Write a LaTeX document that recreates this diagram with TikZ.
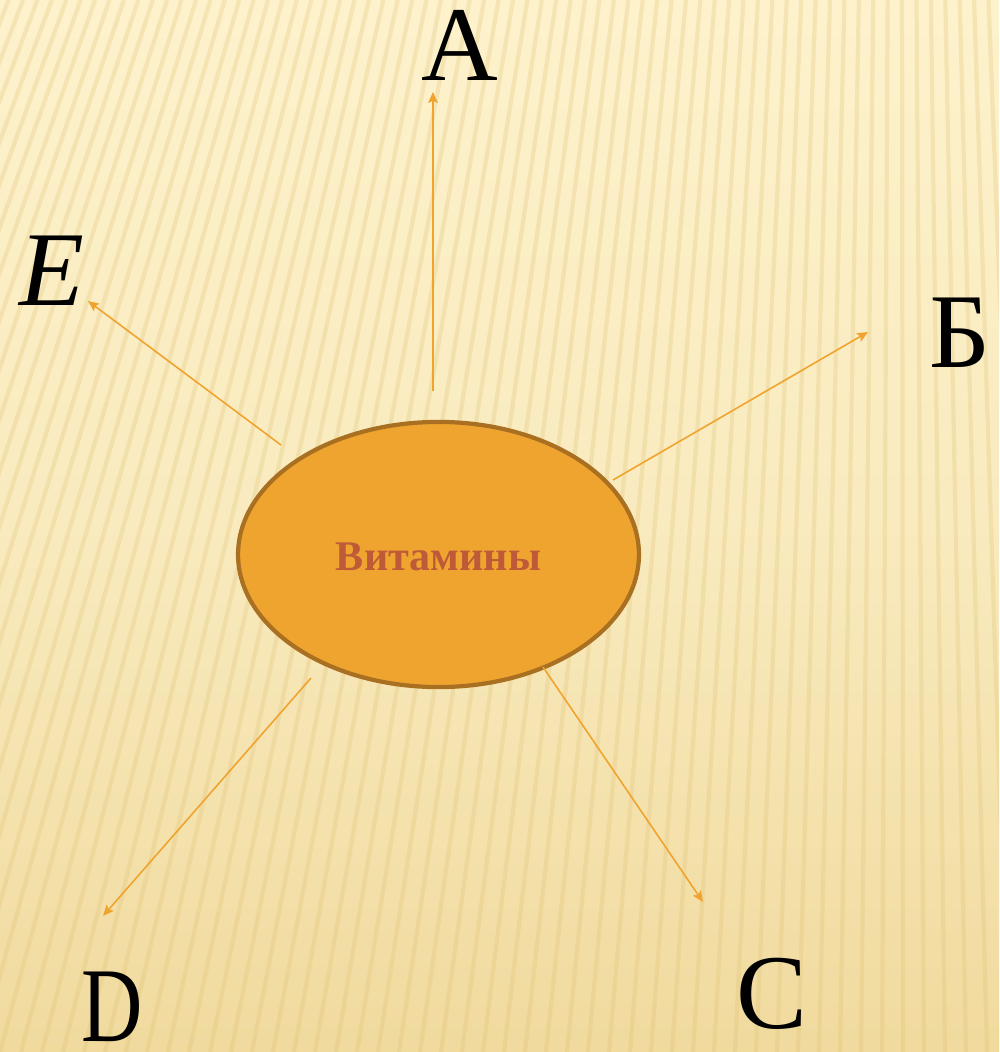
\documentclass[tikz,border=0pt]{standalone}
\usepackage{fontspec}
\setmainfont{Liberation Serif}
\usetikzlibrary{arrows.meta,shapes.geometric}
\definecolor{bgtop}{RGB}{253,242,204}
\definecolor{bgbot}{RGB}{240,218,158}
\definecolor{stripec}{RGB}{222,190,110}
\definecolor{arrowc}{RGB}{240,163,45}
\definecolor{ellfill}{RGB}{239,164,48}
\definecolor{elldraw}{RGB}{168,112,32}
\definecolor{vitc}{RGB}{190,90,55}
\tikzset{
  bigletter/.style={font=\fontsize{30.2pt}{30.2pt}\selectfont, text=black, inner sep=0pt, anchor=base},
  ray/.style={draw=arrowc, line width=0.45pt, -{Stealth[length=3.1pt,width=2.7pt,inset=0.6pt]}},
  stripe/.style={draw=stripec, line width=1.2pt, opacity=0.25},
  vitnode/.style={ellipse, draw=elldraw, fill=ellfill, line width=1.2pt, minimum width=114pt, minimum height=75.4pt, inner sep=0pt}
}
\begin{document}
\begin{tikzpicture}[x=0.01cm,y=-0.01cm]
\useasboundingbox (0,0) rectangle (999,1052);
\shade[top color=bgtop, bottom color=bgbot, middle color=bgtop!70!bgbot] (0,0) rectangle (999,1052);
\begin{scope}
\clip (0,0) rectangle (999,1052);
\foreach \i in {-20,...,70}{
  \pgfmathsetmacro{\bx}{\i*21}
  \pgfmathsetmacro{\tx}{900+(\bx-900)*0.6862}
  \draw[stripe] (\tx,0) -- (\bx,1052);
}
\end{scope}
% central node
\node[vitnode] (vit) at (438.5,554.5) {};
\node[font=\fontsize{12pt}{12pt}\selectfont\bfseries, text=vitc, inner sep=0pt] (vittext) at (438.5,557) {Витамины};
% labels
\node[bigletter] (la) at (459.5,81) {A};
\node[bigletter] (le) at (52,306) {\itshape E};
\node[bigletter] (lb) at (960,367) {Б};
\node[bigletter, xscale=0.8] (ld) at (112,1041) {D};
\node[bigletter] (lc) at (772,1028) {C};
% arrow ends
\coordinate (sa) at (433,391);
\coordinate (ta) at (433,92);
\coordinate (se) at (281,445);
\coordinate (te) at (88,301);
\coordinate (sb) at (613,480);
\coordinate (tb) at (868,332);
\coordinate (sd) at (311,678);
\coordinate (td) at (103,916);
\coordinate (sc) at (543,667);
\coordinate (tc) at (703,902);
\draw[ray] (sa) -- (ta);
\draw[ray] (se) -- (te);
\draw[ray] (sb) -- (tb);
\draw[ray] (sd) -- (td);
\draw[ray] (sc) -- (tc);
\end{tikzpicture}
\end{document}
